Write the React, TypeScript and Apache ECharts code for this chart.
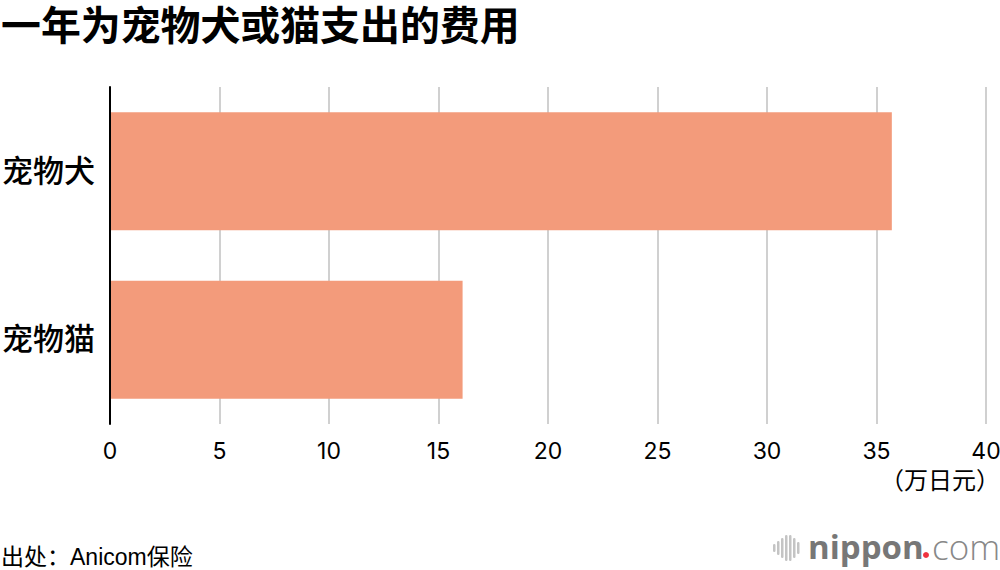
import React, { useEffect, useRef } from "react";
import * as echarts from "echarts";

const categories = ["宠物犬", "宠物猫"];
const costs = [35.7, 16.1];
const titleText = "一年为宠物犬或猫支出的费用";
const unitText = "（万日元）";
const sourceText = "出处：Anicom保险";
const logoBars = [
  [773, 8], [777, 14], [781, 20], [785, 26], [789, 26], [793, 20], [797, 12],
];
const FONT = '"Liberation Sans", "Noto Sans CJK SC", sans-serif';
const LATIN = 'Inter, "Noto Sans CJK SC", sans-serif';

export default function App() {
  const ref = useRef<HTMLDivElement>(null);
  useEffect(() => {
    document.body.style.margin = "0";
    const chart = echarts.init(ref.current!, null, { renderer: "svg" });
    chart.setOption({
      animation: false,
      backgroundColor: "#ffffff",
      grid: { left: 110, right: 14, top: 87, bottom: 146, containLabel: false, outerBoundsMode: "none" },
      xAxis: {
        type: "value",
        min: 0,
        max: 40,
        interval: 5,
        axisLine: { show: false },
        axisTick: { show: false },
        splitLine: { show: true, lineStyle: { color: "#d0d0d0", width: 2 } },
        axisLabel: {
          color: "#000",
          fontSize: 23,
          fontFamily: LATIN,
          margin: 15,
          hideOverlap: false,
          formatter: (v: number) => String(v),
        },
      },
      yAxis: {
        type: "category",
        inverse: true,
        z: 10,
        data: categories,
        axisLine: { show: true, onZero: false, lineStyle: { color: "#000", width: 2 } },
        axisTick: { show: false },
        axisLabel: {
          color: "#000",
          fontSize: 31,
          fontFamily: FONT,
          fontWeight: 500,
          margin: 15,
          padding: [0, 0, 3, 0],
        },
      },
      series: [
        {
          type: "bar",
          data: costs,
          barWidth: "70%",
          itemStyle: { color: "#f39b7b" },
          silent: true,
        },
      ],
      graphic: [
        {
          type: "text",
          x: 1,
          y: 6,
          style: { text: titleText, fontSize: 39.9, fontWeight: 700, fontFamily: FONT, fill: "#000" },
        },
        {
          type: "text",
          x: 1000,
          y: 468,
          style: { text: unitText, fontSize: 24, fontFamily: FONT, fill: "#000", align: "right" },
        },
        {
          type: "text",
          x: 1,
          y: 545,
          style: { text: sourceText, fontSize: 23, fontFamily: FONT, fill: "#000" },
        },
        ...logoBars.map(([x, h]) => ({
          type: "rect",
          shape: { x, y: 548 - h / 2, width: 2.5, height: h, r: 1.2 },
          style: { fill: "#c4c4c4" },
        })),
        {
          type: "text",
          x: 808,
          y: 530,
          style: { text: "nippon", fontSize: 33, fontWeight: 700, fontFamily: '"Open Sans", sans-serif', fill: "#777777" },
        },
        { type: "circle", shape: { cx: 926, cy: 555, r: 3 }, style: { fill: "#ef3340" } },
        {
          type: "text",
          x: 932,
          y: 529,
          style: { text: "com", fontSize: 35, fontWeight: 300, fontFamily: '"Open Sans", sans-serif', fill: "#888888" },
        },
      ],
    });
    return () => chart.dispose();
  }, []);
  return <div ref={ref} style={{ width: 1000, height: 570 }} />;
}
